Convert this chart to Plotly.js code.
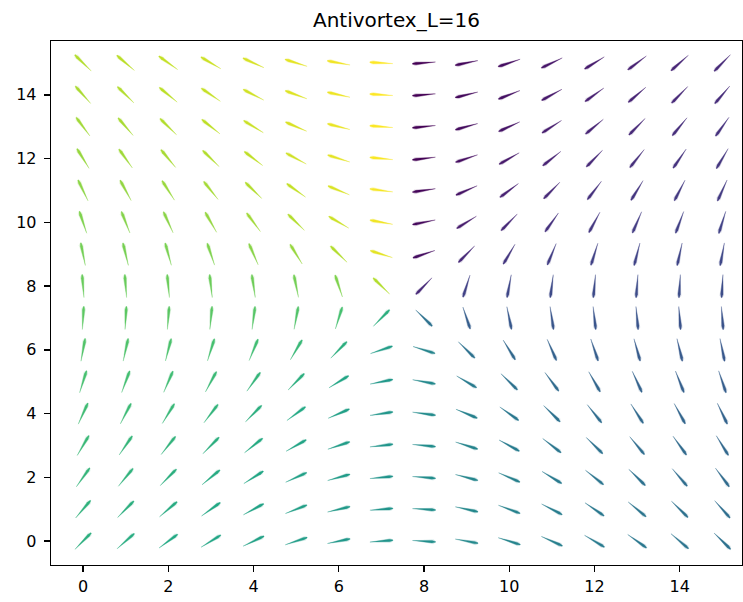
<!DOCTYPE html>
<html>
<head>
<meta charset="utf-8">
<script src="https://cdn.plot.ly/plotly-3.0.1.min.js"></script>
<style>html,body{margin:0;padding:0;background:#fff;}#chart{width:743px;height:602px;}</style>
</head>
<body>
<div id="chart"></div>
<script>
// ---- data ----
const chartTitle = 'Antivortex_L=16';
const xCoords = [0,1,2,3,4,5,6,7,8,9,10,11,12,13,14,15];
const yCoords = [0,1,2,3,4,5,6,7,8,9,10,11,12,13,14,15];
// spin angle (degrees) at each site, rows = y from 0 to 15, columns = x from 0 to 15
const angleRows = [
  [45,41,36,31,25,18,11,4,-4,-11,-18,-25,-31,-36,-41,-45],
  [49,45,40,35,28,21,13,4,-4,-13,-21,-28,-35,-40,-45,-49],
  [54,50,45,39,32,24,15,5,-5,-15,-24,-32,-39,-45,-50,-54],
  [59,55,51,45,38,29,18,6,-6,-18,-29,-38,-45,-51,-55,-59],
  [65,62,58,52,45,36,23,8,-8,-23,-36,-45,-52,-58,-62,-65],
  [72,69,66,61,54,45,31,11,-11,-31,-45,-54,-61,-66,-69,-72],
  [79,77,75,72,67,59,45,18,-18,-45,-59,-67,-72,-75,-77,-79],
  [86,86,85,84,82,79,72,45,-45,-72,-79,-82,-84,-85,-86,-86],
  [94,94,95,96,98,101,108,135,-135,-108,-101,-98,-96,-95,-94,-94],
  [101,103,105,108,113,121,135,162,-162,-135,-121,-113,-108,-105,-103,-101],
  [108,111,114,119,126,135,149,169,-169,-149,-135,-126,-119,-114,-111,-108],
  [115,118,122,128,135,144,157,172,-172,-157,-144,-135,-128,-122,-118,-115],
  [121,125,129,135,142,151,162,174,-174,-162,-151,-142,-135,-129,-125,-121],
  [126,130,135,141,148,156,165,175,-175,-165,-156,-148,-141,-135,-130,-126],
  [131,135,140,145,152,159,167,176,-176,-167,-159,-152,-145,-140,-135,-131],
  [135,139,144,149,155,162,169,176,-176,-169,-162,-155,-149,-144,-139,-135]
];
const tickVals = [0,2,4,6,8,10,12,14];
const tickText = ['0','2','4','6','8','10','12','14'];

// ---- styling / layout constants ----
const W = 743, H = 602;
const M = {l:51, r:1, t:41, b:37};
const xRange = [-0.75, 15.46];
const yRange = [-0.75, 15.69];
const pxX = (W - M.l - M.r) / (xRange[1] - xRange[0]);
const pxY = (H - M.t - M.b) / (yRange[1] - yRange[0]);
const ARROW_LEN = 23; // pixels

const viridis = ['#440154','#482475','#414487','#355f8d','#2a788e','#21918c','#22a884','#44bf70','#7ad151','#bddf26','#fde725'];
function hex2rgb(h){return [parseInt(h.slice(1,3),16),parseInt(h.slice(3,5),16),parseInt(h.slice(5,7),16)];}
function cmap(v){
  v = Math.max(0, Math.min(1, v));
  const p = v * (viridis.length - 1);
  const i = Math.min(Math.floor(p), viridis.length - 2);
  const f = p - i;
  const a = hex2rgb(viridis[i]), b = hex2rgb(viridis[i+1]);
  return [0,1,2].map(k => Math.round(a[k] + (b[k]-a[k])*f));
}

let cmin = Infinity, cmax = -Infinity;
angleRows.forEach(r => r.forEach(v => { cmin = Math.min(cmin, v); cmax = Math.max(cmax, v); }));

const L = ARROW_LEN;
const mainShape = [[-L/2,-0.2],[L/2-3.5,-1.25],[L/2,-0.45],[L/2,0.45],[L/2-3.5,1.25],[-L/2,0.2]];
const shadowShape = [[-L/2+6,-0.5],[L/2-2,-2.4],[L/2+0.6,0],[L/2-2,2.4],[-L/2+6,0.5]];

function poly(x0, y0, deg, shape){
  const a = deg * Math.PI / 180, c = Math.cos(a), s = Math.sin(a);
  const xs = [], ys = [];
  shape.forEach(([u,t]) => {
    xs.push(x0 + (u*c - t*s) / pxX);
    ys.push(y0 + (u*s + t*c) / pxY);
  });
  xs.push(xs[0]); ys.push(ys[0]);
  return {xs, ys};
}

const traces = [];
yCoords.forEach((yv, iy) => {
  xCoords.forEach((xv, ix) => {
    const deg = angleRows[iy][ix];
    const rgb = cmap((deg - cmin) / (cmax - cmin));
    const col = 'rgb(' + rgb.join(',') + ')';
    const sh = poly(xv, yv, deg, shadowShape);
    traces.push({type:'scatter', mode:'lines', x:sh.xs, y:sh.ys, fill:'toself',
      fillcolor:'rgba(' + rgb.join(',') + ',0.14)', line:{width:0, color:'rgba(0,0,0,0)'},
      hoverinfo:'skip', showlegend:false});
    const p = poly(xv, yv, deg, mainShape);
    traces.push({type:'scatter', mode:'lines', x:p.xs, y:p.ys, fill:'toself',
      fillcolor:col, line:{width:0.3, color:col}, hoverinfo:'skip', showlegend:false});
  });
});

const axisCommon = {
  showgrid:false, zeroline:false, showline:true, mirror:true, linecolor:'#000', linewidth:1.3,
  ticks:'outside', ticklen:6, tickwidth:1.3, tickcolor:'#000',
  tickmode:'array', tickvals:tickVals, ticktext:tickText,
  tickfont:{family:'DejaVu Sans', size:16, color:'#000'}, fixedrange:true
};

const layout = {
  width:W, height:H, margin:M, paper_bgcolor:'#fff', plot_bgcolor:'#fff',
  showlegend:false, hovermode:false,
  title:{text:chartTitle, font:{family:'DejaVu Sans', size:20, color:'#000'},
    x:0.5, xref:'paper', xanchor:'center', y:(H-20)/H, yref:'container', yanchor:'middle'},
  xaxis:Object.assign({range:xRange}, axisCommon),
  yaxis:Object.assign({range:yRange, ticklabelstandoff:4}, axisCommon)
};

Plotly.newPlot('chart', traces, layout, {displayModeBar:false, staticPlot:true});
</script>
</body>
</html>
